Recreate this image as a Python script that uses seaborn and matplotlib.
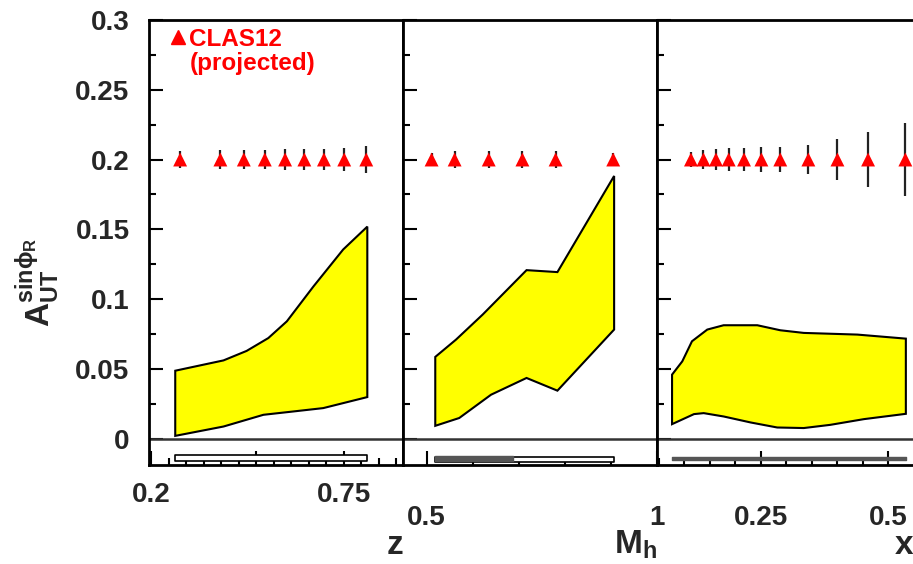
import numpy as np
import matplotlib
matplotlib.use('Agg')
import matplotlib.pyplot as plt
from matplotlib.lines import Line2D
from matplotlib.ticker import FixedLocator, MultipleLocator
import seaborn as sns

sns.set_theme(style='ticks')
plt.rcParams['font.family'] = ['Liberation Sans', 'DejaVu Sans']
plt.rcParams['font.weight'] = 'bold'
plt.rcParams['mathtext.fontset'] = 'custom'
plt.rcParams['mathtext.rm'] = 'Liberation Sans:bold'
plt.rcParams['mathtext.bf'] = 'Liberation Sans:bold'
plt.rcParams['mathtext.it'] = 'Liberation Sans:bold'

# projected CLAS12 points (all at A = 0.2)
z_pts = [0.283, 0.398, 0.465, 0.525, 0.583, 0.638, 0.694, 0.752, 0.815]
z_err = [0.006, 0.0065, 0.007, 0.007, 0.0075, 0.0075, 0.0078, 0.008, 0.010]
mh_pts = [0.511, 0.561, 0.635, 0.708, 0.780, 0.905]
mh_err = [0.005, 0.006, 0.006, 0.006, 0.006, 0.005]
x_pts = [0.113, 0.1375, 0.162, 0.187, 0.217, 0.251, 0.288, 0.343, 0.400, 0.460, 0.533]
x_err = [0.0056, 0.0071, 0.0075, 0.0079, 0.008, 0.009, 0.009, 0.0107, 0.0149, 0.020, 0.026]
proj_val = 0.2

# model bands (upper and lower edges)
z_band_up_x = [0.269, 0.407, 0.473, 0.535, 0.588, 0.664, 0.749, 0.818]
z_band_up = [0.0486, 0.056, 0.0628, 0.072, 0.084, 0.109, 0.1355, 0.1519]
z_band_lo_x = [0.269, 0.407, 0.521, 0.607, 0.692, 0.818]
z_band_lo = [0.0019, 0.0086, 0.017, 0.0194, 0.0218, 0.0297]

mh_band_up_x = [0.519, 0.564, 0.622, 0.717, 0.784, 0.907]
mh_band_up = [0.0585, 0.0709, 0.0889, 0.1207, 0.1193, 0.1882]
mh_band_lo_x = [0.519, 0.571, 0.640, 0.717, 0.784, 0.907]
mh_band_lo = [0.0091, 0.0147, 0.0314, 0.0434, 0.0343, 0.0781]

x_band_up_x = [0.076, 0.096, 0.115, 0.145, 0.177, 0.243, 0.288, 0.334, 0.439, 0.534]
x_band_up = [0.0458, 0.0553, 0.0697, 0.0781, 0.0812, 0.0812, 0.0776, 0.0757, 0.0745, 0.0716]
x_band_lo_x = [0.076, 0.119, 0.138, 0.177, 0.230, 0.282, 0.334, 0.386, 0.452, 0.534]
x_band_lo = [0.0103, 0.0175, 0.0182, 0.0158, 0.0115, 0.0079, 0.0075, 0.0098, 0.0139, 0.0177]

# systematic bars at the bottom
z_sys_x = [0.269, 0.818]
z_sys = [-0.0162, -0.0121]
mh_sys_x = [0.519, 0.907]
mh_sys = [-0.0165, -0.0133]
mh_sys_dark_x = [0.519, 0.687]
mh_sys_dark = [-0.0163, -0.0127]
x_sys_x = [0.076, 0.534]
x_sys = [-0.0152, -0.0133]

y_ticks = [0, 0.05, 0.1, 0.15, 0.2, 0.25, 0.3]

fig = plt.figure(figsize=(9.13, 5.64), dpi=100)
bottom, height = 0.1755, 0.789
ax1 = fig.add_axes([0.1632, bottom, 0.2782, height])
ax2 = fig.add_axes([0.4414, bottom, 0.2782, height])
ax3 = fig.add_axes([0.7196, bottom, 0.2804, height])

panels = [
    (ax1, z_pts, z_err, z_band_up_x, z_band_up, z_band_lo_x, z_band_lo, (0.194, 0.92)),
    (ax2, mh_pts, mh_err, mh_band_up_x, mh_band_up, mh_band_lo_x, mh_band_lo, (0.449, 1.0)),
    (ax3, x_pts, x_err, x_band_up_x, x_band_up, x_band_lo_x, x_band_lo, (0.0465, 0.548)),
]

for ax, px, perr, ux, uy, lx, ly, xl in panels:
    poly_x = list(ux) + list(lx[::-1])
    poly_y = list(uy) + list(ly[::-1])
    ax.fill(poly_x, poly_y, facecolor='#ffff00', edgecolor='black', linewidth=1.5, zorder=2)
    ax.axhline(0, color='#333333', linewidth=1.8, zorder=1)
    ax.errorbar(px, [proj_val] * len(px), yerr=perr, fmt='none', ecolor='#222222',
                elinewidth=1.6, capsize=0, zorder=3)
    sns.scatterplot(x=px, y=[proj_val] * len(px), marker='^', s=100, color='red',
                    edgecolor='none', ax=ax, zorder=4, legend=False)
    ax.set_xlim(*xl)
    ax.set_ylim(-0.019, 0.3)
    ax.yaxis.set_major_locator(FixedLocator(y_ticks))
    ax.yaxis.set_minor_locator(MultipleLocator(0.025))
    ax.tick_params(which='both', direction='in', width=1.5, color='black',
                   labelsize=20, top=False, right=False)
    ax.tick_params(which='major', length=10)
    ax.tick_params(which='minor', length=5)
    for sp in ax.spines.values():
        sp.set_linewidth(2)
        sp.set_color('black')
    ax.set_ylabel('')
    ax.set_xlabel('')

# systematics
ax1.fill_between(z_sys_x, z_sys[0], z_sys[1], facecolor='white', edgecolor='black', linewidth=1.2, zorder=2)
ax2.fill_between(mh_sys_x, mh_sys[0], mh_sys[1], facecolor='white', edgecolor='black', linewidth=1.2, zorder=2)
ax2.fill_between(mh_sys_dark_x, mh_sys_dark[0], mh_sys_dark[1], facecolor='#555555', edgecolor='#555555', linewidth=1, zorder=2)
ax3.fill_between(x_sys_x, x_sys[0], x_sys[1], facecolor='#555555', edgecolor='#555555', linewidth=1, zorder=2)

# y tick labels on first panel only
ax1.set_yticklabels([f'{v:g}' for v in y_ticks], fontweight='bold')
ax2.set_yticklabels([])
ax3.set_yticklabels([])
ax1.tick_params(axis='y', pad=14)
ax3.spines['right'].set_visible(False)

# x ticks
ax1.xaxis.set_major_locator(FixedLocator([0.2, 0.5, 0.75]))
ax1.set_xticklabels(['0.2', '', '0.75'], fontweight='bold')
ax1.xaxis.set_minor_locator(MultipleLocator(0.05))
ax1.tick_params(axis='x', pad=12)

ax2.xaxis.set_major_locator(FixedLocator([0.5, 1.0]))
ax2.set_xticklabels(['0.5', '1'], fontweight='bold')
ax2.xaxis.set_minor_locator(MultipleLocator(0.1))
ax2.tick_params(axis='x', pad=29)

ax3.xaxis.set_major_locator(FixedLocator([0.25, 0.5]))
ax3.set_xticklabels(['0.25', '0.5'], fontweight='bold')
ax3.xaxis.set_minor_locator(MultipleLocator(0.05))
ax3.tick_params(axis='x', pad=29)

for ax, lab in [(ax1, 'z'), (ax2, r'M$_{\mathbf{h}}$'), (ax3, 'x')]:
    ax.set_xlabel(lab, fontsize=24, fontweight='bold', loc='right')
    ax.xaxis.set_label_coords(1.0, -0.18)
    ax.xaxis.label.set_va('center')
    ax.xaxis.label.set_ha('right')

fig.text(0.041, 0.5, r'$\mathbf{A}^{\mathbf{sin\phi_R}}_{\mathbf{UT}}$', rotation=90,
         fontsize=24, ha='center', va='center')

handles = [Line2D([], [], marker='^', color='red', linestyle='none', markersize=10),
           Line2D([], [], linestyle='none')]
ax1.legend(handles, ['CLAS12', '(projected)'], loc='upper left', bbox_to_anchor=(0.03, 1.015),
           frameon=False, handlelength=0.6, handletextpad=0.15, labelspacing=0.05,
           borderaxespad=0.2, labelcolor='red', prop={'weight': 'bold', 'size': 17.5})

plt.savefig('out.png', dpi=100)
